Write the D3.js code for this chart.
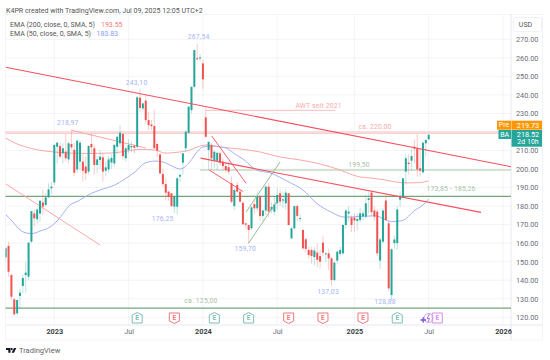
<!DOCTYPE html>
<html>
<head>
<meta charset="utf-8">
<script src="https://cdn.jsdelivr.net/npm/d3@7"></script>
<style>
body { margin: 0; background: #fff; }
text { font-family: Roboto, sans-serif; }
</style>
</head>
<body>
<script>
// weekly bars, index 0 = first visible week
var opens = [152.4,158.5,142.8,129.7,122.1,131.5,136.9,142.8,141.9,160.8,
176,172.9,176,182,180.6,184.7,189.6,192.8,212,212.4,
208.5,209.4,205.2,213.5,210.3,199.8,204,204,201.3,198.6,
213.5,211.2,202.2,204.9,206.3,199.1,199.8,203.5,203,212,
213.9,218.9,205.8,210.3,211.7,212.5,212,238.5,232.7,236.9,
226.4,224,223.2,213.5,207.9,197.3,191.9,187.8,186.9,179.7,
179.7,195.9,203.4,211.2,219.6,231.8,244.4,259.8,259.7,257,
227.9,210.3,213,204.5,204.5,208.5,204,201.6,201,192.3,
180,191.4,187.8,181.8,170.7,169.8,168,181.1,178.8,185.4,
174.7,177.6,190.5,178,177,181.5,186.9,183,181.5,186.9,
162.6,168,180,173,167.1,162.1,156.3,156.3,152.5,154.9,
153,160.3,154,154.5,151.8,140.1,150.6,154.2,154.5,169.8,
176,173.8,173.8,172,172.5,174.5,174.3,183.3,187.3,177.6,
177,150.6,160.8,183,170.7,132,160,160,183.5,184.7,
198.6,203.4,204.5,212,211.2,200.4,198.2,213.9,216]
var highs = [158,160.8,143.7,130.3,129.3,135.6,143,150,160.3,177.3,
178,178.7,183,188.7,187,192.3,193,213.5,214.7,213.9,
213.9,218.97,214.7,220,214,216,215.7,208,206.7,213,
219.2,213,207,210,208.5,204,207,208,213.5,218,
223.8,219.5,212,216,215,213.5,239.4,243.1,236,240,
231,226.4,231.8,214.7,208.5,200,195,188.3,187,185.5,
195.9,197.5,208.5,221,234,244.4,264.5,267.54,262,258.8,
234,214.7,214,209.4,209,209.5,205.8,203,204,196,
189.5,193,188.7,182.4,171,170,180,183,187.5,186,
178,191.5,192.5,182,185,190,189,188,189,187,
169,180.5,181,175.5,167.8,163,158,158,158,160,
156.5,164,155,157,152.5,150,156,158,170,178.5,
180,175,176,176,179,178,186,187.8,188.5,180,
178.5,163,179,186,172,157.2,164,180,188,195,
208,208,211,216,218.9,211,214.8,215.7,218.6]
var lows = [150,141.9,129.3,121,121,124.8,132.9,133,140,160,
169,170.7,171.6,175.2,179.7,184.7,186.5,191.4,203,205.8,
203,204,203,210.3,196,198,199.5,193.2,194,197,
208.5,197,198,200,193.2,196,198,200,201,208,
212,205,204,208.5,209,208.5,211,231,231,224.6,
221,221,211,206.6,197,190.5,183,183,179.5,176.25,
175.5,193,197,209,219,230,243.5,258.5,258,243,
217,199.5,199.7,200.4,199.5,202,199.5,198,197,181.5,
178,187,182,170,167.5,159.7,167,176,177,172,
172,175,174,176,175,178,180,179,178,169.5,
162,167.5,172,171.5,156.5,155,152,149,148,147,
146.4,153,150,145.5,137.03,139.5,149,153,154,168,
172,166,166,167,171,172,173,176,175,172,
153,146,159.5,172,134,128.88,157,156.5,179.5,184,
191.5,197,199,203,195.9,195.9,197.5,206.7,216]
var closes = [157.2,144.6,131.1,121.6,129.3,133.3,141.2,144.1,160.3,177.3,
173.4,178.2,182.9,179.7,184.7,189,190.5,213,214.2,206.7,
211.2,205.8,213.9,211.7,198,215.3,214.2,199,197.7,212.4,
211.7,202.2,205.2,206.7,198.6,200.9,205.2,206,213,217.4,
219.6,207,211.2,213,212.4,211.5,238.7,233,235.4,226.4,
223.7,223.2,211.2,209.9,197.7,191.9,187.2,185,180,185,
195,196.8,208.5,220.1,233.6,244.4,264.2,259.2,260.2,248.4,
217.4,214.7,205.8,209.4,208.8,203.4,201.6,199.5,198.6,182.4,
188.7,187.8,182.4,170.2,170,167.1,179.3,178.8,185.4,174.6,
177.6,190.5,177,179.5,181,186,182.4,183.6,187.3,169.8,
168,180,174.7,173.5,157.2,156.9,153.6,153.1,156,151,
150,154.9,154.5,151.8,140.1,149.5,155.4,156.3,169.8,177.6,
177,169.8,172.2,173,176.1,176.1,181.5,184.2,176.7,174.3,
154.5,162,177.6,172.5,135.6,156.7,162,178.2,185,195,
205.8,202.7,207,211,199.8,199.1,214.2,215.7,218.5]

// moving averages, read at some of the bars
var ema200Bars = [0,3.3,8.5,13.8,16.9,22.5,29.5,36.5,41.7,47,52.2,55.7,59.2,64.5,68,70.4,75,82,89,96,103,110,117,120.5,124,127.5,132.7,138,141.5,145,148]
var ema200Vals = [216.7,214,211.3,209.7,209.2,208.6,208.4,208.6,209.5,210.6,210.3,208.6,208.9,210.3,212.4,213,211.9,210.8,209.2,206.5,204.9,202.7,199.5,197.3,195.7,195.2,194.1,192.7,192.5,192.7,193.55]
var ema50Bars = [0.1,2.2,4.3,7.1,9.2,12,15.5,18.3,22.5,25.3,29.5,33,38.2,41.7,45.2,48.7,52.2,55,58.2,61,64.5,66.9,69,72.2,77.3,80.2,83,87.8,92.5,98.8,104,108.8,113.8,118.7,129.2,135,138.6,143.3,146,148]
var ema50Vals = [175.3,172,168.2,165.5,165.2,166.5,168.7,172.5,180.6,182.7,186.5,188.7,191.4,194.6,198.4,203.2,204.3,203.8,201.6,200,204,209.2,211.9,212.4,211.2,208.1,205.4,199.5,197.9,193.2,188.7,181.5,176.8,174,174.8,171.6,172.1,177.9,180.6,183.83]

var priceTicks = [120,130,140,150,160,170,180,190,200,210,220,230,240,250,260,270]
var hiddenTick = 220   // sits behind the price tags
var timeBars = [17,43,69,95,122,148,174]
var timeLabels = ['2023','Jul','2024','Jul','2025','Jul','2026']

// drawings: bar, price, bar, price
var thickLines = [[0,254.9,176.8,201.25],[68.2,205.9,166.3,176.6]]
var thinRed = [[72.1,217.8,84.1,192.3],[71.2,199.5,83.1,187.8]]
var paleRed = [[0.1,191.9,33,159],[22.8,221,49.1,211.3]]
var greenChannel = [[84.1,176.8,96,203.8],[85,160,94.9,182.7]]
var awtLine = [70,231.7,115.2,231.7]

var blueLabels = [['267,54',67.5,271.5],['243,10',45.8,246.4],['218,97',21.7,225.1],['176,25',54.9,173.2],['159,70',83.8,156.7],['137,03',112.8,133.8],['128,88',132.7,128.4]]
var greenLabels = [['ca. 125,00',68.3,128.8],['199,50',123.6,202.2],['173,85 - 185,26',155.8,189]]
var redLabels = [['ca. 220,00',129.2,222.8],['AWT seit 2021',109.5,234.2]]

var earningsBars = [46,59,73,85,99,111,125,137,151]
var earningsKind = ['up','down','up','up','down','down','down','up','next']

var width = 550, height = 360
var left = 5.5, right = 511, top_ = 14.5, bottom = 325, axisBottom = 340, axisRight = 542.5

var svg = d3.select('body').append('svg')
    .attr('width', width)
    .attr('height', height)
    .style('display', 'block')

var x = d3.scaleLinear().domain([0, 148]).range([5.7, 428.7])
var y = d3.scaleLinear().domain([120, 270]).range([317.3, 39.3])

svg.append('clipPath').attr('id', 'plot')
    .append('rect')
    .attr('x', left).attr('y', top_)
    .attr('width', right - left).attr('height', bottom - top_)

// frame
svg.append('rect')
    .attr('x', left).attr('y', top_)
    .attr('width', axisRight - left).attr('height', axisBottom - top_)
    .attr('fill', 'none').attr('stroke', '#f3f4f8')

// grid
svg.append('g').selectAll('line').data(priceTicks).enter().append('line')
    .attr('x1', left).attr('x2', right)
    .attr('y1', d => y(d)).attr('y2', d => y(d))
    .attr('stroke', '#f3f4f8')
svg.append('g').selectAll('line').data(timeBars).enter().append('line')
    .attr('x1', d => x(d)).attr('x2', d => x(d))
    .attr('y1', top_).attr('y2', bottom)
    .attr('stroke', '#f3f4f8')

svg.append('line').attr('x1', right).attr('x2', right).attr('y1', top_).attr('y2', axisBottom).attr('stroke', '#e6e8ee')
svg.append('line').attr('x1', left).attr('x2', axisRight).attr('y1', bottom).attr('y2', bottom).attr('stroke', '#e6e8ee')

var plot = svg.append('g').attr('clip-path', 'url(#plot)')

function seg(g, rows, color, w) {
    g.selectAll(null).data(rows).enter().append('line')
        .attr('x1', d => x(d[0])).attr('y1', d => y(d[1]))
        .attr('x2', d => x(d[2])).attr('y2', d => y(d[3]))
        .attr('stroke', color).attr('stroke-width', w)
}

// horizontal levels
seg(plot, [[-1,220,178,220]], '#f9c4c4', 1)
var dotted = plot.append('line')
    .attr('x1', left).attr('x2', right)
    .attr('y1', y(219.2)).attr('y2', y(219.2))
    .attr('stroke', '#f29a9a').attr('stroke-dasharray', '1 1')
seg(plot, [[68,199.5,178,199.5]], '#d3e2d1', 2)
seg(plot, [[-1,185.3,178,185.3]], '#76a477', 1.3)
seg(plot, [[-1,125,178,125]], '#76a477', 1.3)

// EMAs
var line = d3.line().curve(d3.curveMonotoneX)
plot.append('path')
    .attr('d', line(ema200Bars.map((b, i) => [x(b), y(ema200Vals[i])])))
    .attr('fill', 'none').attr('stroke', '#f8a9a9').attr('stroke-width', 1)
plot.append('path')
    .attr('d', line(ema50Bars.map((b, i) => [x(b), y(ema50Vals[i])])))
    .attr('fill', 'none').attr('stroke', '#a4b1f5').attr('stroke-width', 1)

seg(plot, paleRed, '#f9a8a8', 1)
seg(plot, [awtLine], '#f9bcbc', 1)

// candles
var bars = closes.map((c, i) => ({ i: i, o: opens[i], h: highs[i], l: lows[i], c: c }))
var candle = plot.append('g')
candle.selectAll('line').data(bars).enter().append('line')
    .attr('x1', d => x(d.i)).attr('x2', d => x(d.i))
    .attr('y1', d => y(d.h)).attr('y2', d => y(d.l))
    .attr('stroke', d => d.c >= d.o ? '#26a69a' : '#ef5350')
    .attr('stroke-opacity', 0.3)
candle.selectAll('rect').data(bars).enter().append('rect')
    .attr('x', d => x(d.i) - 1)
    .attr('width', 2)
    .attr('y', d => y(Math.max(d.o, d.c)))
    .attr('height', d => Math.max(1, Math.abs(y(d.o) - y(d.c))))
    .attr('fill', d => d.c >= d.o ? '#26a69a' : '#ef5350')

seg(plot, thickLines, '#f4505f', 1.1)
seg(plot, thinRed, '#f4505f', 0.9)
seg(plot, greenChannel, '#8db58c', 0.9)

function labels(rows, color) {
    svg.append('g').selectAll('text').data(rows).enter().append('text')
        .text(d => d[0])
        .attr('x', d => x(d[1])).attr('y', d => y(d[2]))
        .attr('text-anchor', 'middle')
        .attr('dominant-baseline', 'central')
        .style('font-size', '6.8px')
        .style('letter-spacing', '0.2px')
        .attr('fill', color)
}
labels(blueLabels, '#a8b6f6')
labels(greenLabels, '#a7c2a5')
labels(redLabels, '#f7a9a9')

// earnings flags
var flagColor = { up: '#7fbfb2', down: '#f2787c', next: '#d98ae8' }
var flags = svg.append('g').selectAll('g')
    .data(earningsBars.map((b, i) => ({ b: b, k: earningsKind[i] })))
    .enter().append('g')
    .attr('transform', d => 'translate(' + x(d.b) + ',318)')
flags.append('path')
    .attr('d', d => d.k == 'up' ? 'M-5,-3 L0,-5.5 L5,-3 L5,5 L-5,5 Z'
        : d.k == 'down' ? 'M-5,-5 L5,-5 L5,3 L0,5.5 L-5,3 Z'
        : 'M-5,-5 L5,-5 L5,5 L-5,5 Z')
    .attr('fill', '#fff')
    .attr('stroke', d => flagColor[d.k])
flags.append('text')
    .text('E')
    .attr('text-anchor', 'middle')
    .attr('dominant-baseline', 'central')
    .style('font-size', '6.5px')
    .style('font-weight', 700)
    .attr('fill', d => flagColor[d.k])

// upcoming event marks left of the last flag
svg.append('circle').attr('cx', 428.5).attr('cy', 318).attr('r', 4.5)
    .attr('fill', 'none').attr('stroke', '#c89bea')
svg.append('path').attr('d', 'M429.5,314 L427,318.5 L429.5,318.5 L428,322').attr('fill', 'none').attr('stroke', '#b06fe0').attr('stroke-width', 1)
svg.append('path').attr('d', 'M420.5,320 H426 M423.2,317.3 V322.7').attr('stroke', '#7a52e0').attr('stroke-width', 1.3)

// axes
var yAxis = svg.append('g')
    .attr('transform', 'translate(' + right + ',0)')
    .call(d3.axisRight(y).tickValues(priceTicks.filter(d => d != hiddenTick)).tickFormat(d3.format('.2f')).tickSize(0).tickPadding(5))
yAxis.select('.domain').remove()
yAxis.selectAll('text').style('font-size', '7.3px').attr('fill', '#6a6d78').style('font-family', 'Roboto')

var xAxis = svg.append('g')
    .attr('transform', 'translate(0,' + bottom + ')')
    .call(d3.axisBottom(x).tickValues(timeBars).tickFormat((d, i) => timeLabels[i]).tickSize(0).tickPadding(4))
xAxis.select('.domain').remove()
xAxis.selectAll('text')
    .style('font-size', '7.3px').style('font-family', 'Roboto')
    .style('font-weight', d => timeBars.indexOf(d) % 2 == 0 ? 700 : 400)
    .attr('fill', d => timeBars.indexOf(d) % 2 == 0 ? '#3c3f48' : '#6a6d78')

// header and legend
function txt(s, px, py, size, color, anchor, weight) {
    return svg.append('text').text(s)
        .attr('x', px).attr('y', py)
        .attr('dominant-baseline', 'central')
        .attr('text-anchor', anchor || 'start')
        .style('font-size', size + 'px')
        .style('font-weight', weight || 400)
        .attr('fill', color)
}
txt('K4PR created with TradingView.com, Jul 09, 2025 12:05 UTC+2', 6, 10, 7.05, '#555')
txt('EMA (200, close, 0, SMA, 5)', 10, 24.7, 7, '#555')
txt('193.55', 101, 24.7, 7, '#f27a7a')
txt('EMA (50, close, 0, SMA, 5)', 10, 34, 7, '#555')
txt('183.83', 96.5, 34, 7, '#8a9cf2')

// USD box
svg.append('rect').attr('x', 513.5).attr('y', 17.5).attr('width', 28).attr('height', 14).attr('rx', 2)
    .attr('fill', '#fff').attr('stroke', '#f0f1f5')
txt('USD', 525.5, 24.5, 7, '#555', 'middle')

// price tags
svg.append('rect').attr('x', 497).attr('y', 120.7).attr('width', 14).attr('height', 9).attr('fill', '#ff9800')
svg.append('rect').attr('x', 511.5).attr('y', 120.7).attr('width', 30.5).attr('height', 9).attr('fill', '#ff9800')
svg.append('rect').attr('x', 498.5).attr('y', 130).attr('width', 12.5).attr('height', 9).attr('fill', '#26a69a')
svg.append('rect').attr('x', 511.5).attr('y', 130).attr('width', 30.5).attr('height', 16.7).attr('fill', '#26a69a')
txt('Pre', 504, 125.3, 7, '#fff', 'middle')
txt('219.73', 528, 125.3, 7.3, '#fff', 'middle')
txt('BA', 504.7, 134.5, 7, '#fff', 'middle')
txt('218.52', 528, 134.5, 7.3, '#fff', 'middle')
txt('2d 10h', 528, 142.3, 7, '#fff', 'middle')

// logo
svg.append('path').attr('d', 'M6,348 H10.5 V352.8 H8.3 V350 H6 Z M14,348 H16.3 L14,352.8 H11.6 Z').attr('fill', '#131722')
svg.append('circle').attr('cx', 11.7).attr('cy', 349.1).attr('r', 1.1).attr('fill', '#131722')
txt('TradingView', 19, 350.3, 7.5, '#666')
</script>
</body>
</html>
